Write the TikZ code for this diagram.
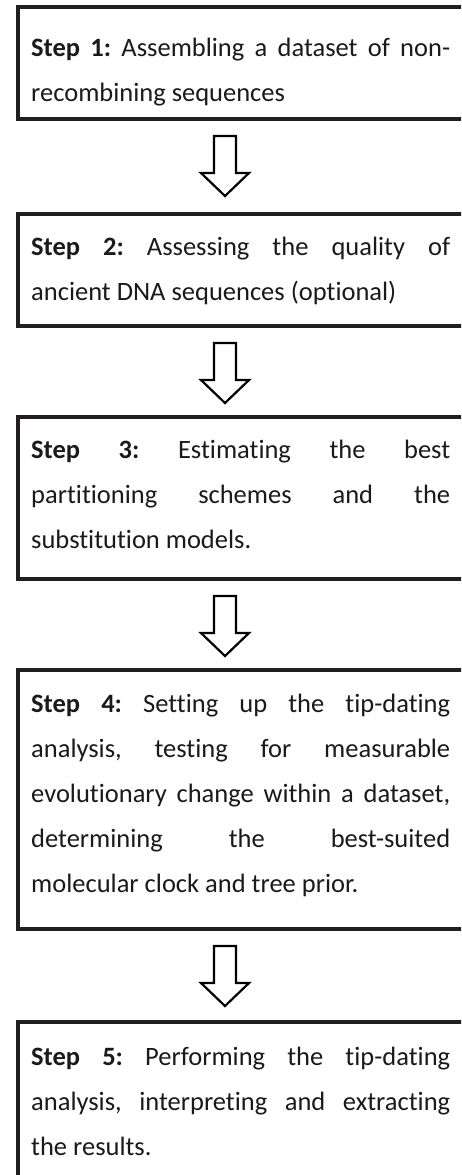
\documentclass[tikz,border=0pt]{standalone}
\usepackage{fontspec}
\setmainfont{Carlito}[RawFeature=-liga]
\definecolor{boxline}{HTML}{231F20}
\definecolor{txt}{HTML}{1A1A1A}
\tikzset{
  stepbox/.style={draw=boxline, line width=3.5pt, minimum width=470pt, inner sep=0pt, anchor=north west},
  steptext/.style={text width=419pt, align=justify, inner sep=0pt, anchor=base west, text=txt,
    font=\fontsize{26.5}{45}\selectfont\frenchspacing},
  arrowline/.style={draw=black, line width=2.2pt, fill=white, line join=miter},
  downarrow/.pic={\path[arrowline] (-11,0) -- (11,0) -- (11,37) -- (24,37) -- (0,60) -- (-24,37) -- (-11,37) -- cycle;}
}
\begin{document}
\begin{tikzpicture}[x=1pt,y=-1pt]
\useasboundingbox (0,0) rectangle (461,1175);
\clip (0,0) rectangle (461,1175);
\fill[white] (0,0) rectangle (461,1175);
% boxes
\node[stepbox, minimum height=112pt] (b1) at (16,5) {};
\node[stepbox, minimum height=112pt] (b2) at (16,212) {};
\node[stepbox, minimum height=162pt] (b3) at (16,415) {};
\node[stepbox, minimum height=259pt] (b4) at (16,668) {};
\node[stepbox, minimum height=180pt] (b5) at (16,1020) {};
% texts
\node[steptext] (t1) at (31,56) {\textbf{Step 1:} Assembling a dataset of non-\linebreak recombining sequences};
\node[steptext] (t2) at (31,255) {\textbf{Step 2:} Assessing the quality of\linebreak ancient DNA sequences (optional)};
\node[steptext] (t3) at (31,458) {\textbf{Step 3:} Estimating the best\linebreak partitioning schemes and the\linebreak substitution models.};
\node[steptext] (t4) at (31,712) {\textbf{Step 4:} Setting up the tip-dating\linebreak analysis, testing for measurable\linebreak evolutionary change within a dataset,\linebreak determining the best-suited\linebreak molecular clock and tree prior.};
\node[steptext] (t5) at (31,1065) {\textbf{Step 5:} Performing the tip-dating\linebreak analysis, interpreting and extracting\linebreak the results.};
% arrows
\coordinate (a1) at (225,136);
\coordinate (a2) at (225,343);
\coordinate (a3) at (225,596);
\coordinate (a4) at (225,946);
\pic at (a1) {downarrow};
\pic at (a2) {downarrow};
\pic at (a3) {downarrow};
\pic at (a4) {downarrow};
\end{tikzpicture}
\end{document}
